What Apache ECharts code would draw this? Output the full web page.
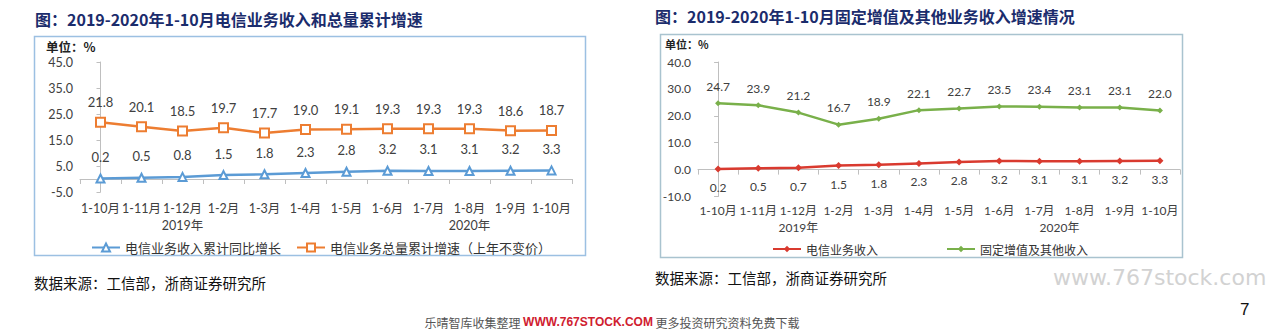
<!DOCTYPE html>
<html>
<head>
<meta charset="utf-8">
<script src="https://cdn.jsdelivr.net/npm/echarts@6/dist/echarts.min.js"></script>
<style>
html,body{margin:0;padding:0;background:#fff;}
#c{width:1273px;height:336px;}
</style>
</head>
<body>
<div id="c"></div>
<script>
// ---- data ----
var categories = ['1-10月','1-11月','1-12月','1-2月','1-3月','1-4月','1-5月','1-6月','1-7月','1-8月','1-9月','1-10月'];
var yearLabels = ['2019年','2020年'];
var leftIncomeGrowth = [0.2,0.5,0.8,1.5,1.8,2.3,2.8,3.2,3.1,3.1,3.2,3.3];
var leftVolumeGrowth = [21.8,20.1,18.5,19.7,17.7,19.0,19.1,19.3,19.3,19.3,18.6,18.7];
var rightTelecomIncome = [0.2,0.5,0.7,1.5,1.8,2.3,2.8,3.2,3.1,3.1,3.2,3.3];
var rightFixedOther = [24.7,23.9,21.2,16.7,18.9,22.1,22.7,23.5,23.4,23.1,23.1,22.0];
var leftYTicks = {min:-5, max:45, interval:10};
var rightYTicks = {min:-10, max:40, interval:10};
var leftTitle = '图：2019-2020年1-10月电信业务收入和总量累计增速';
var rightTitle = '图：2019-2020年1-10月固定增值及其他业务收入增速情况';
var leftSeriesNames = ['电信业务收入累计同比增长','电信业务总量累计增速（上年不变价）'];
var rightSeriesNames = ['电信业务收入','固定增值及其他收入'];
var unitText = '单位：%';
var sourceText = '数据来源：工信部，浙商证券研究所';

// ---- styles ----
var FONT = "Lato, 'Noto Sans CJK SC', sans-serif";
var CJK = "'Noto Sans CJK SC', sans-serif";
var AX = '#BFBFBF';
var TXT = '#404040';

function fmt(p){ return Number(p.value).toFixed(1); }

var chart = echarts.init(document.getElementById('c'), null, {renderer:'svg'});

function yearAxis(gridIndex, idxA, idxB, offset, size){
  return {
    type:'value', gridIndex:gridIndex, position:'bottom', offset:offset,
    min:-0.5, max:11.5, interval:0.5,
    axisLine:{show:false}, axisTick:{show:false}, splitLine:{show:false},
    axisLabel:{
      show:true, fontSize:size, color:TXT, fontFamily:FONT, margin:0,
      formatter:function(v){
        if (Math.abs(v-idxA)<0.01) return yearLabels[0];
        if (Math.abs(v-idxB)<0.01) return yearLabels[1];
        return '';
      }
    }
  };
}

var option = {
  animation:false,
  backgroundColor:'#fff',
  textStyle:{fontFamily:FONT},
  grid:[
    {left:80, right:1273-572, top:62, bottom:336-192, containLabel:false},
    {left:698, right:1273-1180, top:62, bottom:336-196.5, containLabel:false}
  ],
  xAxis:[
    {type:'category', gridIndex:0, data:categories, boundaryGap:true,
     axisLine:{lineStyle:{color:AX, width:1}},
     axisTick:{show:true, length:5, lineStyle:{color:AX}, alignWithLabel:false},
     axisLabel:{fontSize:12.5, color:TXT, fontFamily:FONT, margin:10, interval:0}},
    {type:'category', gridIndex:1, data:categories, boundaryGap:true,
     axisLine:{lineStyle:{color:AX, width:1}},
     axisTick:{show:true, length:5, lineStyle:{color:AX}},
     axisLabel:{fontSize:12, color:TXT, fontFamily:FONT, margin:8, interval:0}},
    yearAxis(0, 2, 9, 27, 12.5),
    yearAxis(1, 2, 8.5, 25, 12)
  ],
  yAxis:[
    {type:'value', gridIndex:0, min:leftYTicks.min, max:leftYTicks.max, interval:leftYTicks.interval,
     axisLine:{show:true, lineStyle:{color:AX}},
     axisTick:{show:true, length:4, lineStyle:{color:AX}},
     splitLine:{show:false},
     axisLabel:{fontSize:12.5, color:TXT, fontFamily:FONT, margin:7, formatter:function(v){return v.toFixed(1);}}},
    {type:'value', gridIndex:1, min:rightYTicks.min, max:rightYTicks.max, interval:rightYTicks.interval,
     axisLine:{show:true, lineStyle:{color:AX}},
     axisTick:{show:true, length:4, lineStyle:{color:AX}},
     splitLine:{show:false},
     axisLabel:{fontSize:12, color:TXT, fontFamily:FONT, margin:7, formatter:function(v){return v.toFixed(1);}}}
  ],
  legend:[
    {left:86, top:236, itemWidth:28, itemHeight:10, itemGap:15,
     textStyle:{fontSize:13, color:'#333', fontFamily:CJK},
     data:[leftSeriesNames[0], leftSeriesNames[1]]},
    {left:767, top:238, itemWidth:28, itemHeight:8, itemGap:68,
     textStyle:{fontSize:12, color:'#333', fontFamily:CJK},
     data:[rightSeriesNames[0], rightSeriesNames[1]]}
  ],
  series:[
    {name:leftSeriesNames[0], type:'line', xAxisIndex:0, yAxisIndex:0, data:leftIncomeGrowth,
     symbol:'emptyTriangle', symbolSize:8, color:'#5B9BD5',
     lineStyle:{width:2.5, color:'#5B9BD5'}, itemStyle:{color:'#5B9BD5', borderWidth:1.2},
     label:{show:true, position:'top', distance:10, fontSize:13, color:TXT, fontFamily:FONT, formatter:fmt}},
    {name:leftSeriesNames[1], type:'line', xAxisIndex:0, yAxisIndex:0, data:leftVolumeGrowth,
     symbol:'emptyRect', symbolSize:9, color:'#ED7D31',
     lineStyle:{width:2.5, color:'#ED7D31'}, itemStyle:{color:'#ED7D31', borderWidth:1.2},
     label:{show:true, position:'top', distance:8, fontSize:13, color:TXT, fontFamily:FONT, formatter:fmt}},
    {name:rightSeriesNames[0], type:'line', xAxisIndex:1, yAxisIndex:1, data:rightTelecomIncome,
     symbol:'diamond', symbolSize:7, color:'#D93A2F',
     lineStyle:{width:2.5, color:'#D93A2F'}, itemStyle:{color:'#D93A2F'},
     label:{show:true, position:'bottom', distance:9, fontSize:12, color:TXT, fontFamily:FONT, formatter:fmt}},
    {name:rightSeriesNames[1], type:'line', xAxisIndex:1, yAxisIndex:1, data:rightFixedOther,
     symbol:'diamond', symbolSize:6, color:'#79B04A',
     lineStyle:{width:2.5, color:'#79B04A'}, itemStyle:{color:'#79B04A'},
     label:{show:true, position:'top', distance:8, fontSize:12, color:TXT, fontFamily:FONT, formatter:fmt}}
  ],
  graphic:[
    {type:'rect', z:-1, shape:{x:34.5, y:36.5, width:551, height:219}, style:{fill:'none', stroke:'#9CC0E2', lineWidth:1.5}},
    {type:'rect', z:-1, shape:{x:660.5, y:34.5, width:522, height:223}, style:{fill:'none', stroke:'#A9C3CF', lineWidth:1.5}},
    {type:'text', style:{text:leftTitle, x:35, y:19, font:"bold 16px "+CJK, fill:'#1B2C6C', verticalAlign:'middle', textVerticalAlign:'middle'}},
    {type:'text', style:{text:rightTitle, x:655, y:16, font:"bold 16px "+CJK, fill:'#1B2C6C', verticalAlign:'middle', textVerticalAlign:'middle'}},
    {type:'text', style:{text:unitText, x:46, y:46, font:"bold 12.5px "+CJK, fill:'#222', verticalAlign:'middle', textVerticalAlign:'middle'}},
    {type:'text', style:{text:unitText, x:665, y:44, font:"bold 11px "+CJK, fill:'#222', verticalAlign:'middle', textVerticalAlign:'middle'}},
    {type:'text', style:{text:sourceText, x:34, y:282, font:"14.5px "+CJK, fill:'#111', verticalAlign:'middle', textVerticalAlign:'middle'}},
    {type:'text', style:{text:sourceText, x:655, y:277, font:"14.5px "+CJK, fill:'#111', verticalAlign:'middle', textVerticalAlign:'middle'}},
    {type:'text', style:{text:'www.767stock.com', x:1053, y:277, font:"22px 'DejaVu Sans', sans-serif", fill:'#D2D2D2', verticalAlign:'middle', textVerticalAlign:'middle'}},
    {type:'text', style:{text:'7', x:1240, y:309, font:"17px 'Liberation Sans', sans-serif", fill:'#111', verticalAlign:'middle', textVerticalAlign:'middle'}},
    {type:'text', style:{
      x:612, y:322, align:'center', textAlign:'center', verticalAlign:'middle', textVerticalAlign:'middle',
      text:'{a|乐晴智库收集整理 }{b|WWW.767STOCK.COM}{a| 更多投资研究资料免费下载}',
      rich:{
        a:{fontSize:12, fontFamily:CJK, fill:'#555', color:'#555'},
        b:{fontSize:12, fontFamily:"'Liberation Sans', sans-serif", fontWeight:'bold', fill:'#D0202F', color:'#D0202F'}
      }
    }}
  ]
};
chart.setOption(option);
</script>
</body>
</html>
